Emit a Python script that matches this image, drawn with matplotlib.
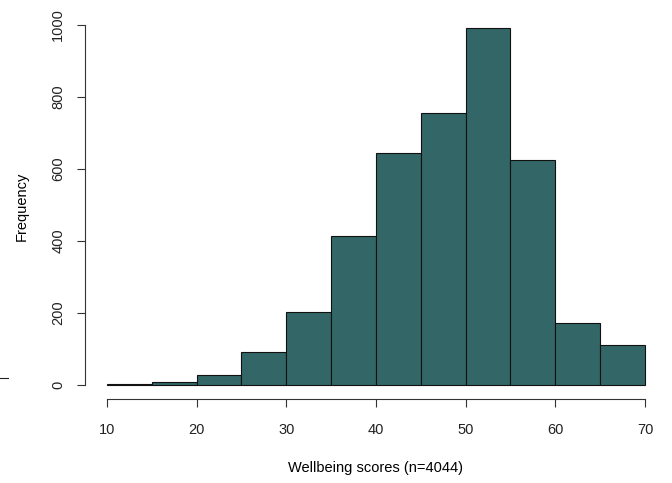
import matplotlib
matplotlib.use("Agg")
import matplotlib.pyplot as plt
from matplotlib.lines import Line2D

# Histogram counts per 5-point bin of the wellbeing score
BIN_EDGES = [10, 15, 20, 25, 30, 35, 40, 45, 50, 55, 60, 65, 70]
COUNTS = [2, 8, 27, 91, 204, 414, 645, 755, 991, 625, 172, 110]
X_TICKS = [10, 20, 30, 40, 50, 60, 70]
Y_TICKS = [0, 200, 400, 600, 800, 1000]

FILL = "#336666"
INK = "#222222"

plt.rcParams.update({
    "font.family": ["Liberation Sans", "DejaVu Sans"],
    "font.size": 10.5,
    "text.color": INK,
    "xtick.color": "#333333",
    "ytick.color": "#333333",
    "xtick.labelcolor": INK,
    "ytick.labelcolor": INK,
})

fig = plt.figure(figsize=(6.72, 4.83), dpi=100)
ax = fig.add_axes([0.1272, 0.1733, 0.8646, 0.7977])

ax.hist(BIN_EDGES[:-1], bins=BIN_EDGES, weights=COUNTS,
        color=FILL, edgecolor="#111111", linewidth=0.8)

# base-graphics style extents: 4% padding around the data range
span = BIN_EDGES[-1] - BIN_EDGES[0]
ax.set_xlim(BIN_EDGES[0] - 0.04 * span, BIN_EDGES[-1] + 0.04 * span)
top = max(COUNTS)
ax.set_ylim(-0.04 * top, top * 1.04)

for side in ("top", "right"):
    ax.spines[side].set_visible(False)
ax.spines["bottom"].set_bounds(X_TICKS[0], X_TICKS[-1])
ax.spines["left"].set_bounds(Y_TICKS[0], Y_TICKS[-1])
for side in ("bottom", "left"):
    ax.spines[side].set_color("#333333")
    ax.spines[side].set_linewidth(0.8)

ax.set_xticks(X_TICKS)
ax.set_yticks(Y_TICKS)
ax.tick_params(axis="both", direction="out", length=5.5, width=0.8)
ax.tick_params(axis="x", pad=11.5)
ax.tick_params(axis="y", pad=9)
for lab in ax.get_yticklabels():
    lab.set_rotation(90)
    lab.set_va("center")

ax.set_xlabel("Wellbeing scores (n=4044)", labelpad=17)
ax.set_ylabel("Frequency", labelpad=16)

# short dash at the left margin
fig.add_artist(Line2D([0.0, 0.012], [0.217, 0.217], color=INK, linewidth=0.8))

fig.savefig("out.png", dpi=100)
